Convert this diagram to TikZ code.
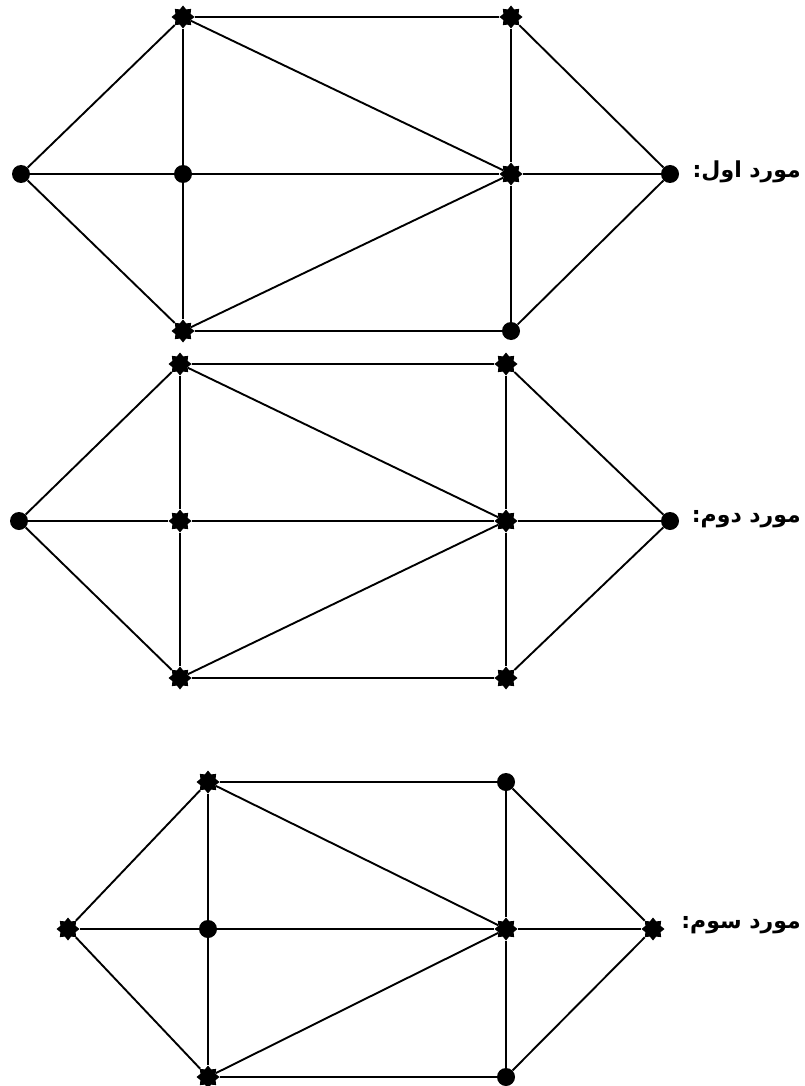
\documentclass[tikz,border=0pt]{standalone}
\usepackage{fontspec}
\usepackage{tikz}
\usetikzlibrary{shapes.geometric}
\TeXXeTstate=1
\newfontfamily\persa[Script=Arabic]{DejaVu Sans}
\tikzset{
  punto/.style={circle,fill=black,inner sep=0pt,minimum size=18pt},
  estrella/.style={star,star points=8,star point ratio=1.4,fill=black,inner sep=0pt,minimum size=23pt},
  arista/.style={line width=1.9pt},
  rotulo/.style={anchor=east,inner sep=0pt,font=\persa\bfseries\fontsize{22}{26}\selectfont},
}
\begin{document}
\begin{tikzpicture}[x=1pt,y=-1pt]
  \useasboundingbox (0,0) rectangle (804,1086);
  % caso 1
  \node[estrella] (ai1) at (183,17) {};
  \node[estrella] (ad1) at (511,17) {};
  \node[punto] (i1) at (21,174) {};
  \node[punto] (ci1) at (183,174) {};
  \node[estrella] (cd1) at (511,174) {};
  \node[punto] (d1) at (670,174) {};
  \node[estrella] (bi1) at (183,331) {};
  \node[punto] (bd1) at (511,331) {};
  \node[rotulo] (r1) at (801,172) {\beginR مورد اول:\endR};
  % caso 2
  \node[estrella] (ai2) at (180,364) {};
  \node[estrella] (ad2) at (506,364) {};
  \node[punto] (i2) at (19,521) {};
  \node[estrella] (ci2) at (180,521) {};
  \node[estrella] (cd2) at (506,521) {};
  \node[punto] (d2) at (670,521) {};
  \node[estrella] (bi2) at (180,678) {};
  \node[estrella] (bd2) at (506,678) {};
  \node[rotulo] (r2) at (801,519) {\beginR مورد دوم:\endR};
  % caso 3
  \node[estrella] (ai3) at (208,782) {};
  \node[punto] (ad3) at (506,782) {};
  \node[estrella] (i3) at (68,929) {};
  \node[punto] (ci3) at (208,929) {};
  \node[estrella] (cd3) at (506,929) {};
  \node[estrella] (d3) at (653,929) {};
  \node[estrella] (bi3) at (208,1077) {};
  \node[punto] (bd3) at (506,1077) {};
  \node[rotulo] (r3) at (801,925) {\beginR مورد سوم:\endR};
  % aristas, iguales en los tres casos
  \foreach \g in {1,2,3} {
    \draw[arista] (ai\g) -- (ad\g) -- (d\g) -- (bd\g) -- (bi\g) -- (i\g) -- (ai\g);
    \draw[arista] (ai\g) -- (ci\g) -- (bi\g);
    \draw[arista] (ad\g) -- (cd\g) -- (bd\g);
    \draw[arista] (i\g) -- (ci\g) -- (cd\g) -- (d\g);
    \draw[arista] (ai\g) -- (cd\g) -- (bi\g);
  }
\end{tikzpicture}
\end{document}
